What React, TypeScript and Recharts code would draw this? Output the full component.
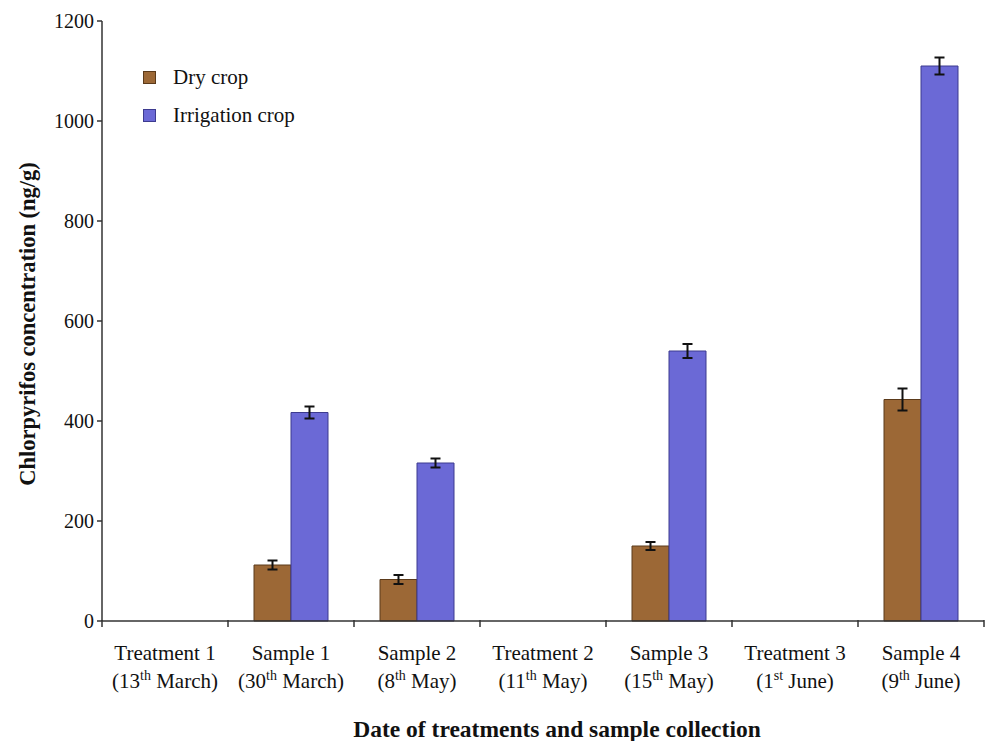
import { BarChart, Bar, XAxis, YAxis, ErrorBar, Label } from 'recharts';

const categories = ['Treatment 1', 'Sample 1', 'Sample 2', 'Treatment 2', 'Sample 3', 'Treatment 3', 'Sample 4'];
const dateNums = ['13', '30', '8', '11', '15', '1', '9'];
const dateSups = ['th', 'th', 'th', 'th', 'th', 'st', 'th'];
const dateMonths = ['March', 'March', 'May', 'May', 'May', 'June', 'June'];

const dryCrop = [null, 112, 83, null, 150, null, 443];
const dryErr = [null, 9, 9, null, 8, null, 22];
const irrigationCrop = [null, 417, 316, null, 540, null, 1110];
const irrigationErr = [null, 12, 9, null, 14, null, 17];

const yTicks = [0, 200, 400, 600, 800, 1000, 1200];

const seriesNames = ['Dry crop', 'Irrigation crop'];
const seriesColors = ['#9c6836', '#6b69d6'];
const seriesStrokes = ['#5b3a1a', '#3d3b8f'];

const data = categories.map((c, i) => ({
  name: c,
  dry: dryCrop[i],
  dryErr: dryErr[i],
  irr: irrigationCrop[i],
  irrErr: irrigationErr[i],
}));

const W = 986;
const H = 741;
const margin = { top: 21, right: 2, left: 0, bottom: 0 };
const Y_AXIS_W = 102;
const FONT = '"Liberation Serif", "Times New Roman", serif';

const XTick = (props: any) => {
  const { x, y, payload } = props;
  const i = payload.index;
  const band = (W - margin.left - margin.right - Y_AXIS_W) / categories.length;
  return (
    <g>
      <line x1={x - band / 2} x2={x - band / 2} y1={y - 1} y2={y + 6} stroke="#333" strokeWidth={1.5} />
      {i === categories.length - 1 && (
        <line x1={x + band / 2} x2={x + band / 2} y1={y - 1} y2={y + 6} stroke="#333" strokeWidth={1.5} />
      )}
      <text x={x} y={y + 39} textAnchor="middle" fontFamily={FONT} fontSize={21} fill="#111">
        {categories[i]}
      </text>
      <text x={x} y={y + 67} textAnchor="middle" fontFamily={FONT} fontSize={21} fill="#111">
        ({dateNums[i]}
        <tspan fontSize={14} dy={-8}>{dateSups[i]}</tspan>
        <tspan dy={8}> {dateMonths[i]})</tspan>
      </text>
    </g>
  );
};

const ChartLegend = () => (
  <div
    style={{
      position: 'absolute',
      left: 143,
      top: 58,
      fontFamily: FONT,
      fontSize: 21,
      color: '#111',
    }}
  >
    {seriesNames.map((n, i) => (
      <div key={n} style={{ display: 'flex', alignItems: 'center', height: 38 }}>
        <span
          style={{
            display: 'inline-block',
            width: 11,
            height: 11,
            background: seriesColors[i],
            border: `1px solid ${seriesStrokes[i]}`,
            marginRight: 17,
          }}
        />
        {n}
      </div>
    ))}
  </div>
);

export default function App() {
  return (
    <div style={{ position: 'absolute', left: 0, top: 0, width: W, height: H, background: '#fff' }}>
      <BarChart width={W} height={H} data={data} margin={margin} barGap={0} barSize={37}>
        <XAxis
          dataKey="name"
          height={120}
          interval={0}
          tickSize={0}
          tickMargin={0}
          tickLine={false}
          axisLine={{ stroke: '#333', strokeWidth: 1.5 }}
          tick={<XTick />}
        >
          <Label
            content={(p: any) => {
              const vb = p.viewBox;
              return (
                <text
                  x={vb.x + vb.width / 2 + 14}
                  y={vb.y + 116}
                  textAnchor="middle"
                  fontFamily={FONT}
                  fontSize={23.5}
                  fontWeight="bold"
                  fill="#111"
                >
                  Date of treatments and sample collection
                </text>
              );
            }}
          />
        </XAxis>
        <YAxis
          width={Y_AXIS_W}
          domain={[0, 1200]}
          ticks={yTicks}
          interval={0}
          tickSize={5}
          tickMargin={3}
          axisLine={{ stroke: '#333', strokeWidth: 1.5 }}
          tickLine={{ stroke: '#333', strokeWidth: 1.5 }}
          tick={{ fontFamily: FONT, fontSize: 20, fill: '#111' }}
        >
          <Label
            content={(p: any) => {
              const vb = p.viewBox;
              const cy = vb.y + vb.height / 2 + 3;
              return (
                <text
                  x={35}
                  y={cy}
                  transform={`rotate(-90, 35, ${cy})`}
                  textAnchor="middle"
                  fontFamily={FONT}
                  fontSize={22.5}
                  fontWeight="bold"
                  fill="#111"
                >
                  Chlorpyrifos concentration (ng/g)
                </text>
              );
            }}
          />
        </YAxis>
        <Bar dataKey="dry" name={seriesNames[0]} fill={seriesColors[0]} stroke={seriesStrokes[0]} strokeWidth={1} isAnimationActive={false}>
          <ErrorBar dataKey="dryErr" direction="y" width={5} stroke="#111" strokeWidth={2} />
        </Bar>
        <Bar dataKey="irr" name={seriesNames[1]} fill={seriesColors[1]} stroke={seriesStrokes[1]} strokeWidth={1} isAnimationActive={false}>
          <ErrorBar dataKey="irrErr" direction="y" width={5} stroke="#111" strokeWidth={2} />
        </Bar>
      </BarChart>
      <ChartLegend />
    </div>
  );
}
